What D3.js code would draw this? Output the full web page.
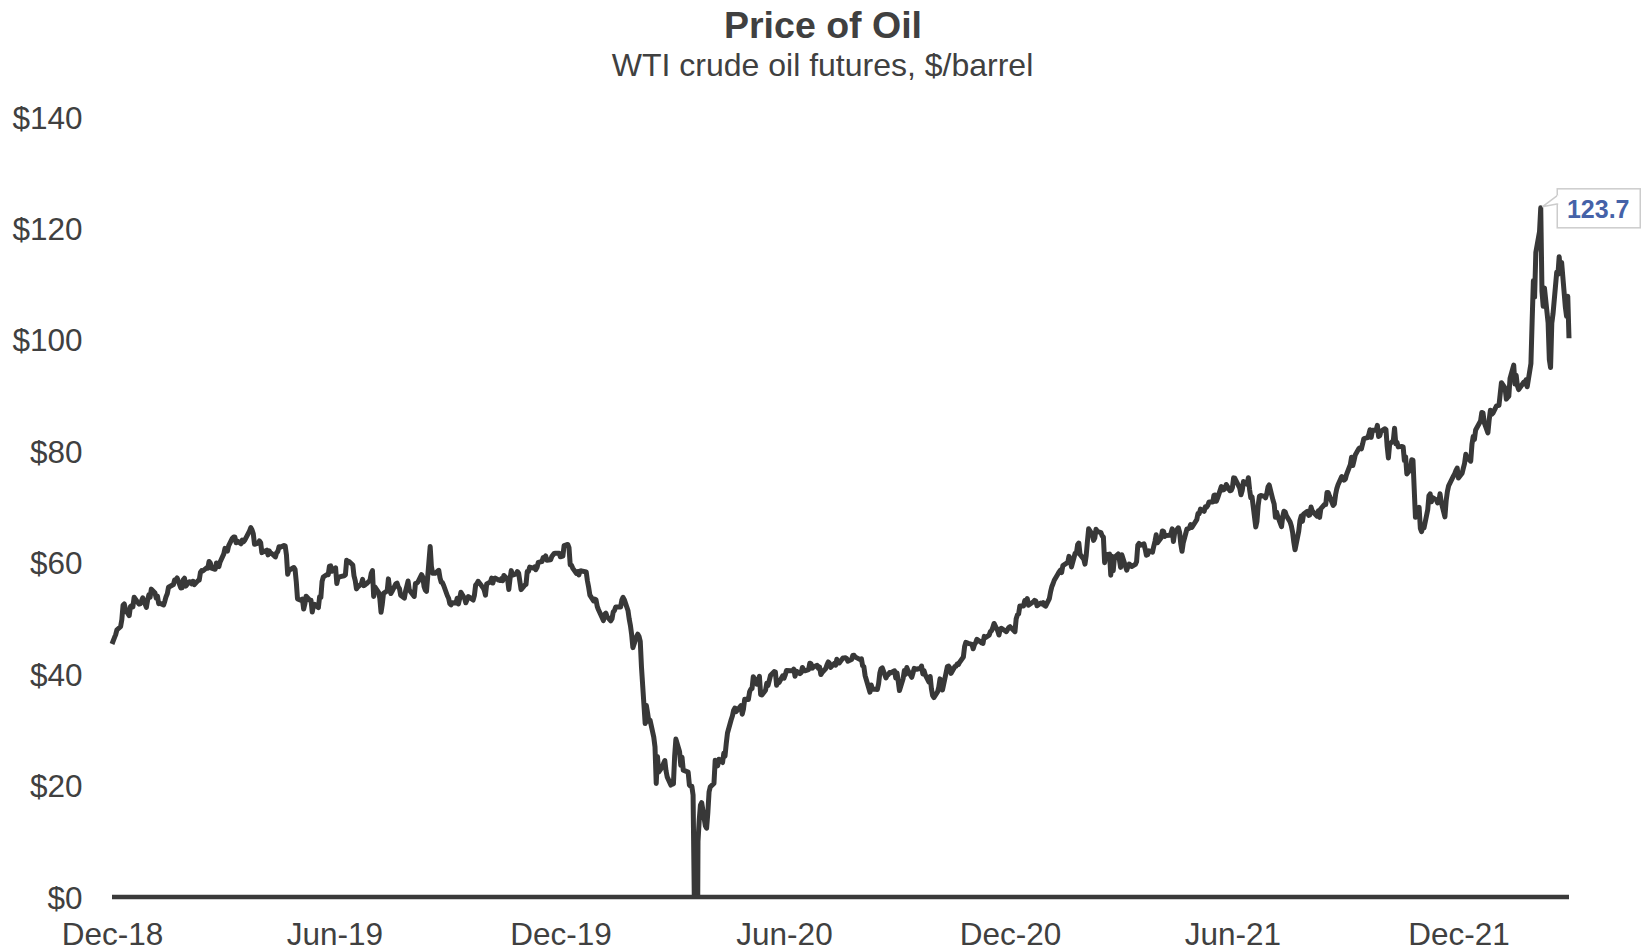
<!DOCTYPE html>
<html>
<head>
<meta charset="utf-8">
<script src="https://cdn.jsdelivr.net/npm/d3@7"></script>
<style>
  body { margin: 0; background: #ffffff; }
  svg text { font-family: "Liberation Sans", Arial, sans-serif; fill: #404040; }
</style>
</head>
<body>
<svg id="oilChart" width="1643" height="950"></svg>
<script>
// WTI front-month close, [MM-DD, $/barrel], one list per year
let oil2018 = [["12-31",45.41]];
let oil2019 = [
["01-02",46.54],["01-03",47.09],["01-04",47.96],["01-07",48.52],["01-08",49.78],["01-09",52.36],["01-10",52.59],["01-11",51.59],["01-14",50.51],["01-15",52.11],["01-16",52.31],["01-17",52.07],["01-18",53.80],["01-22",52.57],["01-23",52.62],["01-24",53.13],["01-25",53.69],["01-28",51.99],["01-29",53.31],["01-30",54.23],["01-31",53.79],
["02-01",55.26],["02-04",54.56],["02-05",53.66],["02-06",54.01],["02-07",52.64],["02-08",52.72],["02-11",52.41],["02-12",53.10],["02-13",53.90],["02-14",54.41],["02-15",55.59],["02-19",56.09],["02-20",56.92],["02-21",56.96],["02-22",57.26],["02-25",55.48],["02-26",55.50],["02-27",56.94],["02-28",57.22],
["03-01",55.80],["03-04",56.59],["03-05",56.56],["03-06",56.22],["03-07",56.66],["03-08",56.07],["03-11",56.79],["03-12",56.87],["03-13",58.26],["03-14",58.61],["03-15",58.52],["03-18",59.09],["03-19",59.03],["03-20",60.23],["03-21",59.98],["03-22",59.04],["03-25",58.82],["03-26",59.94],["03-27",59.41],["03-28",59.30],["03-29",60.14],
["04-01",61.59],["04-02",62.58],["04-03",62.46],["04-04",62.10],["04-05",63.08],["04-08",64.40],["04-09",64.61],["04-10",64.61],["04-11",63.58],["04-12",63.89],["04-15",63.40],["04-16",64.05],["04-17",63.76],["04-18",64.00],["04-22",65.70],["04-23",66.30],["04-24",65.89],["04-25",65.21],["04-26",63.30],["04-29",63.50],["04-30",63.91],
["05-01",63.60],["05-02",61.81],["05-03",61.94],["05-06",62.25],["05-07",61.40],["05-08",62.12],["05-09",61.70],["05-10",61.66],["05-13",61.04],["05-14",61.78],["05-15",62.02],["05-16",62.87],["05-17",62.76],["05-20",63.10],["05-21",62.99],["05-22",61.42],["05-23",57.91],["05-24",58.63],["05-28",59.14],["05-29",58.81],["05-30",56.59],["05-31",53.50],
["06-03",53.25],["06-04",53.48],["06-05",51.68],["06-06",52.59],["06-07",53.99],["06-10",53.26],["06-11",53.27],["06-12",51.14],["06-13",52.28],["06-14",52.51],["06-17",51.93],["06-18",53.90],["06-19",53.76],["06-20",56.65],["06-21",57.43],["06-24",57.90],["06-25",57.83],["06-26",59.38],["06-27",59.43],["06-28",58.47],
["07-01",59.09],["07-02",56.25],["07-03",57.34],["07-05",57.51],["07-08",57.66],["07-09",57.83],["07-10",60.43],["07-11",60.20],["07-12",60.21],["07-15",59.58],["07-16",57.62],["07-17",56.78],["07-18",55.30],["07-19",55.63],["07-22",56.22],["07-23",57.00],["07-24",55.88],["07-25",56.02],["07-26",56.20],["07-29",56.87],["07-30",58.05],["07-31",58.58],
["08-01",53.95],["08-02",55.66],["08-05",54.69],["08-06",53.63],["08-07",51.09],["08-08",52.54],["08-09",54.50],["08-12",54.93],["08-13",57.10],["08-14",55.23],["08-15",54.47],["08-16",54.87],["08-19",56.21],["08-20",56.34],["08-21",55.68],["08-22",55.35],["08-23",54.17],["08-26",53.64],["08-27",54.93],["08-28",55.78],["08-29",56.71],["08-30",55.10],
["09-03",53.94],["09-04",56.26],["09-05",56.30],["09-06",56.52],["09-09",57.85],["09-10",57.40],["09-11",55.75],["09-12",55.09],["09-13",54.85],["09-16",62.90],["09-17",59.34],["09-18",58.11],["09-19",58.13],["09-20",58.09],["09-23",58.64],["09-24",57.29],["09-25",56.49],["09-26",56.41],["09-27",55.91],["09-30",54.07],
["10-01",53.62],["10-02",52.64],["10-03",52.45],["10-04",52.81],["10-07",52.75],["10-08",53.63],["10-09",52.59],["10-10",53.55],["10-11",54.70],["10-14",53.59],["10-15",52.81],["10-16",53.36],["10-17",53.93],["10-18",53.78],["10-21",53.31],["10-22",54.16],["10-23",55.97],["10-24",56.23],["10-25",56.66],["10-28",55.81],["10-29",55.54],["10-30",55.06],["10-31",54.18],
["11-01",56.20],["11-04",56.54],["11-05",57.23],["11-06",56.35],["11-07",57.15],["11-08",57.24],["11-11",56.86],["11-12",56.80],["11-13",57.12],["11-14",56.77],["11-15",57.72],["11-18",57.05],["11-19",55.21],["11-20",57.11],["11-21",58.58],["11-22",57.77],["11-25",58.01],["11-26",58.41],["11-27",58.11],["11-29",55.17],
["12-02",55.96],["12-03",56.10],["12-04",58.43],["12-05",58.43],["12-06",59.20],["12-09",59.02],["12-10",59.24],["12-11",58.76],["12-12",59.18],["12-13",60.07],["12-16",60.21],["12-17",60.94],["12-18",60.93],["12-19",61.22],["12-20",60.44],["12-23",60.52],["12-24",61.11],["12-26",61.68],["12-27",61.72],["12-30",61.68],["12-31",61.06]
];
let oil2020 = [
["01-02",61.18],["01-03",63.05],["01-06",63.27],["01-07",62.70],["01-08",59.61],["01-09",59.56],["01-10",59.04],["01-13",58.08],["01-14",58.38],["01-15",57.81],["01-16",58.52],["01-17",58.54],["01-21",58.34],["01-22",56.74],["01-23",55.59],["01-24",54.19],["01-27",53.14],["01-28",53.48],["01-29",53.33],["01-30",52.14],["01-31",51.56],
["02-03",50.11],["02-04",49.61],["02-05",50.75],["02-06",50.95],["02-07",50.32],["02-10",49.57],["02-11",49.94],["02-12",51.17],["02-13",51.42],["02-14",52.05],["02-18",52.05],["02-19",53.29],["02-20",53.78],["02-21",53.38],["02-24",51.43],["02-25",49.90],["02-26",48.73],["02-27",47.09],["02-28",44.76],
["03-02",46.75],["03-03",47.18],["03-04",46.78],["03-05",45.90],["03-06",41.28],["03-09",31.13],["03-10",34.36],["03-11",32.98],["03-12",31.50],["03-13",31.73],["03-16",28.70],["03-17",26.95],["03-18",20.37],["03-19",25.22],["03-20",22.43],["03-23",23.36],["03-24",24.01],["03-25",24.49],["03-26",22.60],["03-27",21.51],["03-30",20.09],["03-31",20.48],
["04-01",20.31],["04-02",25.32],["04-03",28.34],["04-06",26.08],["04-07",23.63],["04-08",25.09],["04-09",22.76],["04-13",22.41],["04-14",20.11],["04-15",19.87],["04-16",19.87],["04-17",18.27],["04-20",-37.63],["04-21",10.01],["04-22",13.78],["04-23",16.50],["04-24",16.94],["04-27",12.78],["04-28",12.34],["04-29",15.06],["04-30",18.84],
["05-01",19.78],["05-04",20.39],["05-05",24.56],["05-06",23.99],["05-07",23.55],["05-08",24.74],["05-11",24.14],["05-12",25.78],["05-13",25.29],["05-14",27.56],["05-15",29.43],["05-18",31.82],["05-19",32.50],["05-20",33.49],["05-21",33.92],["05-22",33.25],["05-26",34.35],["05-27",32.81],["05-28",33.71],["05-29",35.49],
["06-01",35.44],["06-02",36.81],["06-03",37.29],["06-04",37.41],["06-05",39.55],["06-08",38.19],["06-09",38.94],["06-10",39.60],["06-11",36.34],["06-12",36.26],["06-15",37.12],["06-16",38.38],["06-17",37.96],["06-18",38.84],["06-19",39.75],["06-22",40.46],["06-23",40.37],["06-24",38.01],["06-25",38.72],["06-26",38.49],["06-29",39.70],["06-30",39.27],
["07-01",39.82],["07-02",40.65],["07-06",40.63],["07-07",40.62],["07-08",40.90],["07-09",39.62],["07-10",40.55],["07-13",40.10],["07-14",40.29],["07-15",41.20],["07-16",40.75],["07-17",40.59],["07-20",40.81],["07-21",41.96],["07-22",41.90],["07-23",41.07],["07-24",41.29],["07-27",41.60],["07-28",41.04],["07-29",41.27],["07-30",39.92],["07-31",40.27],
["08-03",41.01],["08-04",41.70],["08-05",42.19],["08-06",41.95],["08-07",41.22],["08-10",41.94],["08-11",41.61],["08-12",42.67],["08-13",42.24],["08-14",42.01],["08-17",42.89],["08-18",42.89],["08-19",42.93],["08-20",42.82],["08-21",42.34],["08-24",42.62],["08-25",43.35],["08-26",43.39],["08-27",43.04],["08-28",42.97],["08-31",42.61],
["09-01",42.76],["09-02",41.51],["09-03",41.37],["09-04",39.77],["09-08",36.76],["09-09",38.05],["09-10",37.30],["09-11",37.33],["09-14",37.26],["09-15",38.28],["09-16",40.16],["09-17",40.97],["09-18",41.11],["09-21",39.31],["09-22",39.80],["09-23",39.93],["09-24",40.31],["09-25",40.25],["09-28",40.60],["09-29",39.29],["09-30",40.22],
["10-01",38.72],["10-02",37.05],["10-05",39.22],["10-06",40.67],["10-07",39.95],["10-08",41.19],["10-09",40.60],["10-12",39.43],["10-13",40.20],["10-14",41.04],["10-15",40.96],["10-16",40.88],["10-19",41.06],["10-20",41.46],["10-21",40.03],["10-22",40.64],["10-23",39.85],["10-26",38.56],["10-27",39.57],["10-28",37.39],["10-29",36.17],["10-30",35.79],
["11-02",36.81],["11-03",37.66],["11-04",39.15],["11-05",38.79],["11-06",37.14],["11-09",40.29],["11-10",41.36],["11-11",41.45],["11-12",41.12],["11-13",40.13],["11-16",41.34],["11-17",41.43],["11-18",41.82],["11-19",41.74],["11-20",42.15],["11-23",43.06],["11-24",44.91],["11-25",45.71],["11-27",45.53],["11-30",45.34],
["12-01",44.55],["12-02",45.28],["12-03",45.64],["12-04",46.26],["12-07",45.76],["12-08",45.60],["12-09",45.52],["12-10",46.78],["12-11",46.57],["12-14",46.99],["12-15",47.62],["12-16",47.82],["12-17",48.36],["12-18",49.10],["12-21",47.74],["12-22",47.02],["12-23",48.12],["12-24",48.23],["12-28",47.62],["12-29",48.00],["12-30",48.40],["12-31",48.52]
];
let oil2021 = [
["01-04",47.62],["01-05",49.93],["01-06",50.63],["01-07",50.83],["01-08",52.24],["01-11",52.25],["01-12",53.21],["01-13",52.91],["01-14",53.57],["01-15",52.36],["01-19",52.98],["01-20",53.24],["01-21",53.13],["01-22",52.27],["01-25",52.77],["01-26",52.61],["01-27",52.85],["01-28",52.34],["01-29",52.20],
["02-01",53.55],["02-02",54.76],["02-03",55.69],["02-04",56.23],["02-05",56.85],["02-08",57.97],["02-09",58.36],["02-10",58.68],["02-11",58.24],["02-12",59.47],["02-16",60.05],["02-17",61.14],["02-18",60.52],["02-19",59.24],["02-22",61.70],["02-23",61.67],["02-24",63.22],["02-25",63.53],["02-26",61.50],
["03-01",60.64],["03-02",59.75],["03-03",61.28],["03-04",63.83],["03-05",66.09],["03-08",65.05],["03-09",64.01],["03-10",64.44],["03-11",66.02],["03-12",65.61],["03-15",65.39],["03-16",64.80],["03-17",64.60],["03-18",60.00],["03-19",61.42],["03-22",61.55],["03-23",57.76],["03-24",61.18],["03-25",58.56],["03-26",60.97],["03-29",61.56],["03-30",60.55],["03-31",59.16],
["04-01",61.45],["04-05",58.65],["04-06",59.33],["04-07",59.77],["04-08",59.60],["04-09",59.32],["04-12",59.70],["04-13",60.18],["04-14",63.15],["04-15",63.46],["04-16",63.13],["04-19",63.38],["04-20",62.44],["04-21",61.35],["04-22",61.43],["04-23",62.14],["04-26",61.91],["04-27",62.94],["04-28",63.86],["04-29",65.01],["04-30",63.58],
["05-03",64.49],["05-04",65.69],["05-05",65.63],["05-06",64.71],["05-07",64.90],["05-10",64.92],["05-11",65.28],["05-12",66.08],["05-13",63.82],["05-14",65.37],["05-17",66.27],["05-18",65.49],["05-19",63.36],["05-20",62.05],["05-21",63.58],["05-24",66.05],["05-25",66.07],["05-26",66.21],["05-27",66.85],["05-28",66.32],
["06-01",67.72],["06-02",68.83],["06-03",68.81],["06-04",69.62],["06-07",69.23],["06-08",70.05],["06-09",69.96],["06-10",70.29],["06-11",70.91],["06-14",70.88],["06-15",72.12],["06-16",72.15],["06-17",71.04],["06-18",71.64],["06-21",73.66],["06-22",73.06],["06-23",73.08],["06-24",73.30],["06-25",74.05],["06-28",72.91],["06-29",72.98],["06-30",73.47],
["07-01",75.23],["07-02",75.16],["07-06",73.37],["07-07",72.20],["07-08",72.94],["07-09",74.56],["07-12",74.10],["07-13",75.25],["07-14",73.13],["07-15",71.65],["07-16",71.81],["07-19",66.42],["07-20",67.42],["07-21",70.30],["07-22",71.91],["07-23",72.07],["07-26",71.91],["07-27",71.65],["07-28",72.39],["07-29",73.62],["07-30",73.95],
["08-02",71.26],["08-03",70.56],["08-04",68.15],["08-05",69.09],["08-06",68.28],["08-09",66.48],["08-10",68.29],["08-11",69.25],["08-12",69.09],["08-13",68.44],["08-16",67.29],["08-17",66.59],["08-18",65.46],["08-19",63.69],["08-20",62.32],["08-23",65.64],["08-24",67.54],["08-25",68.36],["08-26",67.42],["08-27",68.74],["08-30",69.21],["08-31",68.50],
["09-01",68.59],["09-02",69.99],["09-03",69.29],["09-07",68.35],["09-08",69.30],["09-09",68.14],["09-10",69.72],["09-13",70.45],["09-14",70.46],["09-15",72.61],["09-16",72.61],["09-17",71.97],["09-20",70.29],["09-21",70.56],["09-22",72.23],["09-23",73.30],["09-24",73.98],["09-27",75.45],["09-28",75.29],["09-29",74.83],["09-30",75.03],
["10-01",75.88],["10-04",77.62],["10-05",78.93],["10-06",77.43],["10-07",78.30],["10-08",79.35],["10-11",80.52],["10-12",80.64],["10-13",80.44],["10-14",81.31],["10-15",82.28],["10-18",82.44],["10-19",82.96],["10-20",83.87],["10-21",82.50],["10-22",83.76],["10-25",83.76],["10-26",84.65],["10-27",82.66],["10-28",82.81],["10-29",83.57],
["11-01",84.05],["11-02",83.91],["11-03",80.86],["11-04",78.81],["11-05",81.27],["11-08",81.93],["11-09",84.15],["11-10",81.34],["11-11",81.59],["11-12",80.79],["11-15",80.88],["11-16",80.76],["11-17",78.36],["11-18",79.01],["11-19",75.94],["11-22",76.75],["11-23",78.50],["11-24",78.39],["11-26",68.15],["11-29",69.95],["11-30",66.18],
["12-01",65.57],["12-02",66.50],["12-03",66.26],["12-06",69.49],["12-07",72.05],["12-08",72.36],["12-09",70.94],["12-10",71.67],["12-13",71.29],["12-14",70.73],["12-15",70.87],["12-16",72.38],["12-17",70.86],["12-20",68.23],["12-21",71.12],["12-22",72.76],["12-23",73.79],["12-27",75.57],["12-28",75.98],["12-29",76.56],["12-30",76.99],["12-31",75.21]
];
let oil2022 = [
["01-03",76.08],["01-04",76.99],["01-05",77.85],["01-06",79.46],["01-07",78.90],["01-10",78.23],["01-11",81.22],["01-12",82.64],["01-13",82.12],["01-14",83.82],["01-18",85.43],["01-19",86.96],["01-20",86.90],["01-21",85.14],["01-24",83.31],["01-25",85.60],["01-26",87.35],["01-27",86.61],["01-28",86.82],["01-31",88.15],
["02-01",88.20],["02-02",88.26],["02-03",90.27],["02-04",92.31],["02-07",91.32],["02-08",89.36],["02-09",89.66],["02-10",89.88],["02-11",93.10],["02-14",95.46],["02-15",92.07],["02-16",93.66],["02-17",91.76],["02-18",91.07],["02-22",92.35],["02-23",92.10],["02-24",92.81],["02-25",91.59],["02-28",95.72],
["03-01",103.41],["03-02",110.60],["03-03",107.67],["03-04",115.68],["03-07",119.40],["03-08",123.70],["03-09",108.70],["03-10",106.02],["03-11",109.33],["03-14",103.01],["03-15",96.44],["03-16",95.04],["03-17",102.98],["03-18",104.70],["03-21",112.12],["03-22",111.76],["03-23",114.93],["03-24",112.34],["03-25",113.90],["03-28",105.96],["03-29",104.24],["03-30",107.82],["03-31",100.28]
];

let yTicks = [0, 20, 40, 60, 80, 100, 120, 140];
let xTickDates = ["2018-12-31", "2019-06-30", "2019-12-31", "2020-06-30", "2020-12-31", "2021-06-30", "2021-12-31"];

let chartTitle = "Price of Oil";
let chartSubtitle = "WTI crude oil futures, $/barrel";

let parseDate = d3.timeParse("%Y-%m-%d");
let oilData = [];
[[2018, oil2018], [2019, oil2019], [2020, oil2020], [2021, oil2021], [2022, oil2022]].forEach(function (yr) {
    yr[1].forEach(function (d) {
        oilData.push({ date: parseDate(yr[0] + "-" + d[0]), price: d[1] });
    });
});

let chartSvg = d3.select("svg#oilChart");
let plot = { left: 112, right: 1569, top: 117, bottom: 897 };

let dateScale = d3.scaleTime()
    .domain(d3.extent(oilData, d => d.date))
    .range([plot.left, plot.right]);
let priceScale = d3.scaleLinear().domain([0, 140]).range([plot.bottom, plot.top]);

// titles
chartSvg.append("text").attr("x", 823).attr("y", 37.5)
    .style("text-anchor", "middle").style("font-size", "37.5px").style("font-weight", "bold")
    .text(chartTitle);
chartSvg.append("text").attr("x", 822.5).attr("y", 76)
    .style("text-anchor", "middle").style("font-size", "32px")
    .text(chartSubtitle);

// y axis labels, no axis line
let yAxis = d3.axisLeft(priceScale).tickValues(yTicks).tickSize(0).tickPadding(0)
    .tickFormat(d => "$" + d);
let yAxisG = chartSvg.append("g").attr("transform", "translate(82.5,0)").call(yAxis);
yAxisG.select("path.domain").remove();
yAxisG.selectAll("text").attr("x", 0).attr("dy", "0.35em")
    .style("font-size", "31.5px").style("font-family", "Liberation Sans, Arial, sans-serif").attr("fill", "#404040");

// x axis labels
let xAxis = d3.axisBottom(dateScale).tickValues(xTickDates.map(parseDate)).tickSize(0).tickPadding(0)
    .tickFormat(d3.timeFormat("%b-%y"));
let xAxisG = chartSvg.append("g").attr("transform", "translate(0,944.5)").call(xAxis);
xAxisG.select("path.domain").remove();
xAxisG.selectAll("text").attr("y", 0).attr("dy", "0")
    .style("font-size", "31.5px").style("font-family", "Liberation Sans, Arial, sans-serif").attr("fill", "#404040");

// clip so the negative April 2020 print stops at the $0 line
chartSvg.append("clipPath").attr("id", "plotClip")
    .append("rect").attr("x", plot.left - 10).attr("y", 0)
    .attr("width", plot.right - plot.left + 20).attr("height", priceScale(0));

let oilLine = d3.line().x(d => dateScale(d.date)).y(d => priceScale(d.price));
chartSvg.append("path")
    .datum(oilData)
    .attr("clip-path", "url(#plotClip)")
    .attr("fill", "none")
    .attr("stroke", "#383838")
    .attr("stroke-width", 5)
    .attr("stroke-linejoin", "round")
    .attr("d", oilLine);

// bottom edge for x axis
chartSvg.append("line")
    .attr("x1", plot.left).attr("x2", plot.right)
    .attr("y1", priceScale(0)).attr("y2", priceScale(0))
    .attr("stroke", "#3a3a3a").attr("stroke-width", 4.5);

// callout for the peak
let peak = oilData.reduce((a, b) => (b.price > a.price ? b : a));
let px = dateScale(peak.date), py = priceScale(peak.price);
let boxX = px + 16.5, boxY = py - 19, boxW = 83, boxH = 39;
chartSvg.append("rect")
    .attr("x", boxX).attr("y", boxY).attr("width", boxW).attr("height", boxH)
    .attr("fill", "#ffffff").attr("stroke", "#cccccc").attr("stroke-width", 1.5);
chartSvg.append("path")
    .attr("d", "M" + (boxX + 1) + "," + (py - 13) + "L" + (px + 1.5) + "," + (py - 1) + "L" + (boxX + 1) + "," + (py - 4))
    .attr("fill", "#ffffff").attr("stroke", "#cccccc").attr("stroke-width", 1.5);
chartSvg.append("rect")
    .attr("x", boxX).attr("y", py - 12.5).attr("width", 2).attr("height", 8).attr("fill", "#ffffff");
chartSvg.append("text")
    .attr("x", boxX + boxW / 2 - 0.5).attr("y", py + 10)
    .style("text-anchor", "middle").style("font-size", "25px").style("font-weight", "bold")
    .style("fill", "#4562a8")
    .text(d3.format(".1f")(peak.price));
</script>
</body>
</html>
